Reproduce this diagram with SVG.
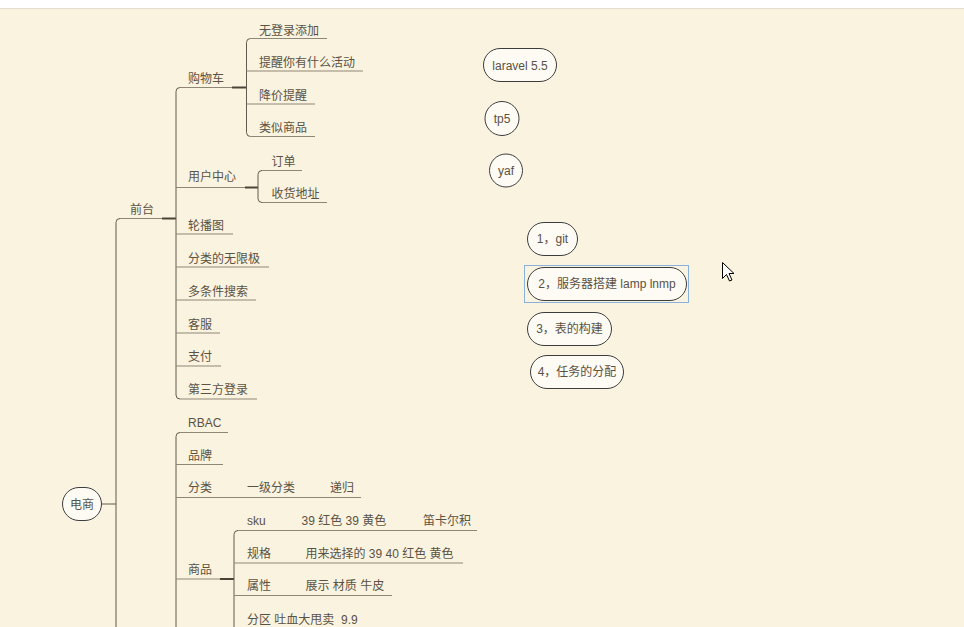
<svg xmlns="http://www.w3.org/2000/svg" width="964" height="627" viewBox="0 0 964 627">
<style>
text{font-family:"Liberation Sans","Noto Sans CJK SC",sans-serif;font-size:12px;fill:#5a5244}
.u{fill:none;stroke:#8f8676;stroke-width:1}
.c{fill:none;stroke:#625a4d;stroke-width:1}
.k{fill:none;stroke:#4a4438;stroke-width:2}
.b{fill:#fdfbf4;stroke:#3d3d3d;stroke-width:1}
.m{text-anchor:middle}
</style>
<rect x="0" y="0" width="964" height="627" fill="#faf3df"/>
<rect x="0" y="0" width="964" height="8" fill="#ffffff"/>
<line x1="0" y1="8.5" x2="964" y2="8.5" stroke="#e2ddd0" stroke-width="1"/>

<g id="connectors">
<path class="c" d="M102,504 H116"/>
<path class="c" d="M116,627 V222.5 Q116,218.5 120,218.5"/>
<path class="k" d="M162,218.5 H176"/>
<path class="c" d="M180,87.5 Q176,87.5 176,91.5 V395 Q176,399 180,399"/>
<path class="k" d="M232,87.5 H246.5"/>
<path class="c" d="M250.5,38.5 Q246.5,38.5 246.5,42.5 V132.5 Q246.5,136.5 250.5,136.5"/>
<path class="k" d="M245,187.5 H258"/>
<path class="c" d="M262,170.5 Q258,170.5 258,174.5 V198.5 Q258,202.5 262,202.5"/>
<path class="c" d="M180,432.5 Q176,432.5 176,436.5 V627"/>
<path class="k" d="M220,579 H234"/>
<path class="c" d="M238,530.5 Q234,530.5 234,534.5 V627"/>
</g>

<g id="n-dianshang"><rect class="b" x="62.5" y="487.5" width="39" height="33" rx="16.5"/><text class="m" x="82" y="508.5">电商</text></g>

<g id="n-qiantai"><path class="u" d="M120,218.5 H162"/><text x="130" y="214">前台</text></g>

<g id="n-gouwuche"><path class="u" d="M180,87.5 H232"/><text x="188" y="83">购物车</text></g>
<g id="n-wudenglu"><path class="u" d="M250.5,38.5 H327"/><text x="259" y="34.5">无登录添加</text></g>
<g id="n-tixing"><path class="u" d="M246.5,71 H363"/><text x="259" y="67">提醒你有什么活动</text></g>
<g id="n-jiangjia"><path class="u" d="M246.5,104 H315"/><text x="259" y="99.5">降价提醒</text></g>
<g id="n-leisi"><path class="u" d="M250.5,136.5 H315"/><text x="259" y="132">类似商品</text></g>

<g id="n-yonghu"><path class="u" d="M176,187.5 H245"/><text x="188" y="181">用户中心</text></g>
<g id="n-dingdan"><path class="u" d="M262,170.5 H302"/><text x="271.5" y="165.5">订单</text></g>
<g id="n-shouhuo"><path class="u" d="M262,202.5 H327"/><text x="271.5" y="197.5">收货地址</text></g>

<g id="n-lunbo"><path class="u" d="M176,234 H233"/><text x="188" y="229.5">轮播图</text></g>
<g id="n-fenlei-wuxian"><path class="u" d="M176,267 H269"/><text x="188" y="262.8">分类的无限极</text></g>
<g id="n-duotiaojian"><path class="u" d="M176,300 H256"/><text x="188" y="295.5">多条件搜索</text></g>
<g id="n-kefu"><path class="u" d="M176,333 H220"/><text x="188" y="328.8">客服</text></g>
<g id="n-zhifu"><path class="u" d="M176,366 H221"/><text x="188" y="361">支付</text></g>
<g id="n-disanfang"><path class="u" d="M180,399 H257"/><text x="188" y="394">第三方登录</text></g>

<g id="n-rbac"><path class="u" d="M180,432.5 H228"/><text x="188" y="427">RBAC</text></g>
<g id="n-pinpai"><path class="u" d="M176,464.5 H223"/><text x="188" y="459.5">品牌</text></g>
<g id="n-fenlei"><path class="u" d="M176,497.5 H361"/><text x="188" y="492">分类</text><text x="247" y="492">一级分类</text><text x="330" y="492">递归</text></g>

<g id="n-shangpin"><path class="u" d="M176,579 H220"/><text x="188" y="574">商品</text></g>
<g id="n-sku"><path class="u" d="M238,530.5 H477"/><text x="247" y="524.5">sku</text><text x="301.5" y="524.5">39 红色 39 黄色</text><text x="423" y="524.5">笛卡尔积</text></g>
<g id="n-guige"><path class="u" d="M234,563 H463"/><text x="247" y="557.8">规格</text><text x="305.5" y="557.8">用来选择的 39 40 红色 黄色</text></g>
<g id="n-shuxing"><path class="u" d="M234,595.5 H392"/><text x="247" y="590.2">属性</text><text x="305.5" y="590.2">展示 材质 牛皮</text></g>
<g id="n-fenqu"><text x="247" y="623.5" xml:space="preserve">分区 吐血大甩卖  9.9</text></g>

<g id="n-laravel"><rect class="b" x="483.5" y="48.5" width="73" height="33" rx="16.5"/><text class="m" x="520" y="69.5">laravel 5.5</text></g>
<g id="n-tp5"><ellipse class="b" cx="502" cy="118.5" rx="17" ry="17"/><text class="m" x="502" y="122.5">tp5</text></g>
<g id="n-yaf"><ellipse class="b" cx="506" cy="170.5" rx="16.5" ry="16.5"/><text class="m" x="506" y="174.5">yaf</text></g>
<g id="n-git"><rect class="b" x="527.5" y="222.5" width="50" height="33" rx="16.5"/><text class="m" x="552.5" y="243.3">1，git</text></g>
<g id="n-server"><rect x="524.5" y="265.5" width="164" height="37" fill="none" stroke="#8ab0dd" stroke-width="1"/><rect class="b" x="527.5" y="267.5" width="159" height="33" rx="16.5"/><text class="m" x="607" y="288.3">2，服务器搭建 lamp lnmp</text></g>
<g id="n-table"><rect class="b" x="527.5" y="312.5" width="84" height="33" rx="16.5"/><text class="m" x="569.5" y="333.3">3，表的构建</text></g>
<g id="n-task"><rect class="b" x="530.5" y="355.5" width="93" height="33" rx="16.5"/><text class="m" x="577" y="376.3">4，任务的分配</text></g>

<polygon points="722.5,262.5 722.5,278.5 726.5,274.5 729.5,281 732,280 729,273.5 734,273.5" fill="#ffffff" stroke="#000000" stroke-width="1"/>
</svg>
